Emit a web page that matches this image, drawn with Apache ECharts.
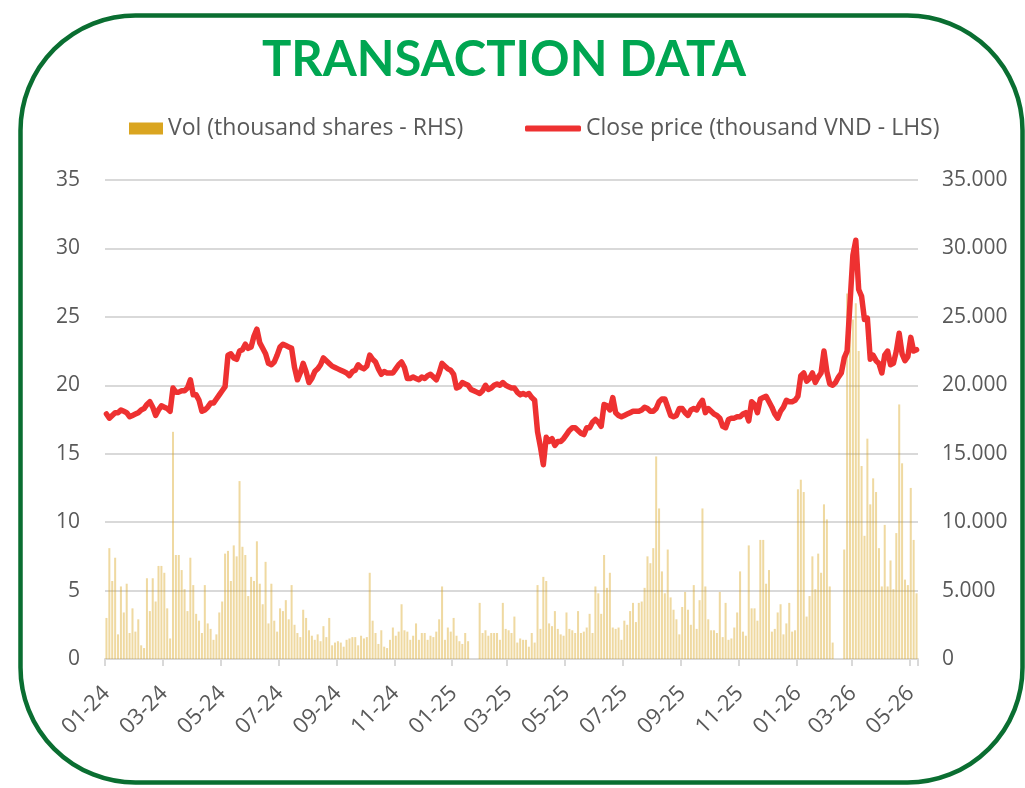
<!DOCTYPE html>
<html>
<head>
<meta charset="utf-8">
<script src="https://cdn.jsdelivr.net/npm/echarts@6/dist/echarts.min.js"></script>
<style>
  html, body { margin: 0; padding: 0; background: #ffffff; }
  #chart { width: 1025px; height: 788px; }
</style>
</head>
<body>
<div id="chart"></div>
<script>
// Month labels (MM-YY) and number of points drawn per month
const months = ['01-24','02-24','03-24','04-24','05-24','06-24','07-24','08-24','09-24','10-24','11-24','12-24',
                '01-25','02-25','03-25','04-25','05-25','06-25','07-25','08-25','09-25','10-25','11-25','12-25',
                '01-26','02-26','03-26','04-26','05-26'];
const pointsPerMonth = [10,10,10,10,10,10,10,10,10,10,10,10,
                        10,9,10,10,10,10,10,10,10,10,10,10,
                        10,9,10,10,3];

// Close price (thousand VND - LHS)
const price2024 = [
  17.9,17.6,17.8,18.0,18.0,18.2,18.1,18.0,17.7,17.8,
  17.9,18.0,18.2,18.3,18.6,18.8,18.4,17.8,18.2,18.5,
  18.4,18.3,18.1,19.8,19.5,19.5,19.6,19.6,19.8,20.4,
  19.3,19.3,18.9,18.1,18.2,18.4,18.7,18.7,19.0,19.3,
  19.6,19.9,22.2,22.3,22.0,21.9,22.5,22.6,23.0,22.7,
  22.8,23.6,24.1,23.1,22.7,22.3,21.6,21.5,21.7,22.2,
  22.8,23.0,22.9,22.8,22.7,21.3,20.4,20.9,21.6,21.0,
  20.2,20.5,21.0,21.2,21.5,22.0,21.8,21.6,21.4,21.3,
  21.2,21.1,21.0,20.9,20.7,21.0,21.1,21.5,21.3,21.2,
  21.4,22.2,21.9,21.7,21.2,20.8,21.0,20.9,20.9,20.9,
  21.2,21.5,21.7,21.3,20.5,20.5,20.6,20.5,20.4,20.6,
  20.5,20.7,20.8,20.6,20.4,20.9,21.6,21.4,21.2,21.1
];
const price2025 = [
  20.8,19.8,19.9,20.2,20.1,20.0,19.7,19.6,19.5,19.4,
  19.6,20.0,19.7,19.8,20.0,20.1,20.0,20.2,20.0,
  19.9,19.8,19.8,19.5,19.3,19.4,19.3,19.4,19.1,18.9,
  16.6,15.5,14.2,16.2,15.9,16.1,15.6,15.9,15.9,16.1,
  16.4,16.7,16.9,16.9,16.7,16.5,16.4,16.9,16.9,17.3,
  17.5,17.3,17.0,18.6,18.5,18.2,19.1,18.0,17.8,17.7,
  17.8,17.9,18.0,18.1,18.1,18.1,18.2,18.4,18.3,18.1,
  18.1,18.3,18.8,19.0,19.0,18.4,17.8,17.7,17.8,18.3,
  18.3,18.0,17.8,18.2,18.3,18.2,18.6,18.9,18.0,18.3,
  18.1,17.9,17.8,17.6,17.0,16.9,17.5,17.6,17.6,17.7,
  17.7,17.9,18.0,17.4,18.8,18.6,18.0,19.0,19.1,19.2,
  18.8,18.4,17.9,17.6,18.1,18.4,18.9,18.8,18.8,18.9
];
const price2026 = [
  19.2,20.7,20.9,20.3,20.5,20.9,20.2,20.6,20.9,22.5,
  21.0,20.1,20.0,20.2,20.6,20.9,22.0,22.5,26.0,
  29.5,30.6,27.0,26.5,24.8,24.9,21.9,22.2,21.8,21.6,
  20.9,22.2,22.5,21.5,21.6,22.5,23.8,22.3,21.8,22.1,
  23.5,22.5,22.6
];

// Volume (thousand shares - RHS)
const vol2024 = [
  3000,8100,5700,7400,1800,5300,3400,5500,1900,3700,
  2000,2900,1000,800,5900,3500,5900,4200,6800,6800,
  6300,3700,1500,16600,7600,7600,6500,5100,3500,7400,
  5400,3300,2800,1900,5400,2600,2200,1400,1800,3400,
  4200,7700,7900,5700,8300,7500,13000,8200,7600,4600,
  6000,5700,8600,5500,4000,7100,2600,5500,2800,2000,
  3700,3500,4300,2900,5400,2500,1900,1600,3600,3000,
  2100,1700,1400,1800,1300,2400,1600,3000,1000,1200,
  1300,1200,900,1400,1500,1600,1600,1000,1700,1500,
  1600,6300,2800,1900,1100,2100,900,800,1400,2300,
  1700,2000,4000,2100,2000,1400,1700,2600,1400,1900,
  1900,1400,1700,1600,2000,2900,5300,1400,2300,2000
];
const vol2025 = [
  3000,1700,1300,1100,1900,1300,0,0,0,4100,
  1900,2100,1700,1900,1900,1900,1400,4100,2200,
  2100,1900,3100,1200,1500,1400,1400,900,1900,1200,
  5400,2200,6000,5700,2600,2400,3500,2200,1800,1700,
  3400,2200,2100,1900,3500,1900,2000,2300,3300,1900,
  5300,4800,3300,7600,5200,6300,2300,2200,2300,1400,
  2800,2500,3500,4100,2700,4100,4200,5200,7500,7000,
  8100,14800,11000,6400,4800,8000,4500,3600,2900,1800,
  3800,4900,3600,2500,5400,2200,4300,11000,5300,2900,
  2100,2100,1900,4900,1600,4100,1400,1500,2300,3400,
  6400,2000,1700,8300,3700,3700,2800,8700,8700,5500,
  6500,2000,2200,3400,4000,1800,2600,4100,2000,2100
];
const vol2026 = [
  12400,13100,12200,3100,4600,7500,5100,7700,6300,11300,
  10200,5300,1200,0,0,0,8000,26700,24300,
  24800,26000,22500,14100,9000,16100,11300,13200,12200,8100,
  5300,9800,5300,7200,5100,9200,18600,14300,5800,5400,
  12500,8700,4800
];

// Build the category list (one category per drawn point)
const categories = [];
months.forEach(function (m, i) {
  for (let k = 0; k < pointsPerMonth[i]; k++) categories.push(m + '|' + k);
});
const priceData = price2024.concat(price2025, price2026);
const volData = vol2024.concat(vol2025, vol2026);

function isLabelCat(value) {
  const parts = String(value).split('|');
  const mm = parseInt(parts[0].slice(0, 2), 10);
  return parts[1] === '0' && mm % 2 === 1;
}

const chart = echarts.init(document.getElementById('chart'), null, { renderer: 'canvas' });
const FONT = '"Open Sans", "Noto Sans", sans-serif';
const GREY = '#595959';

chart.setOption({
  animation: false,
  backgroundColor: '#ffffff',
  graphic: [
    {
      type: 'rect', silent: true, z: -10,
      shape: { x: 20.5, y: 15.5, width: 1002, height: 767, r: 115 },
      style: { fill: 'none', stroke: '#0a6e31', lineWidth: 4.5 }
    },
    {
      type: 'text', silent: true,
      x: 504, y: 60,
      style: {
        text: 'TRANSACTION DATA',
        font: 'bold 49px Lato, "Open Sans", sans-serif',
        fill: '#00a651',
        align: 'center',
        verticalAlign: 'middle'
      }
    }
  ],
  legend: [
    {
      data: [{ name: 'Vol (thousand shares - RHS)', icon: 'rect', itemStyle: { color: '#DAA520' } }],
      left: 124, top: 112,
      itemWidth: 34, itemHeight: 12,
      textStyle: { fontFamily: FONT, fontSize: 23, color: GREY },
      selectedMode: false
    },
    {
      data: [{ name: 'Close price (thousand VND - LHS)', icon: 'roundRect' }],
      left: 520, top: 112,
      itemWidth: 56, itemHeight: 6,
      textStyle: { fontFamily: FONT, fontSize: 23, color: GREY },
      selectedMode: false
    }
  ],
  grid: { left: 105, right: 107, top: 180, bottom: 129, containLabel: false },
  xAxis: {
    type: 'category',
    data: categories,
    boundaryGap: true,
    axisLine: { show: true, lineStyle: { color: '#d9d9d9', width: 2 } },
    axisTick: {
      show: true, length: 7,
      interval: function (idx, value) { return isLabelCat(value); },
      lineStyle: { color: '#d9d9d9', width: 2 }
    },
    axisLabel: {
      interval: function (idx, value) { return isLabelCat(value); },
      formatter: function (value) { return String(value).split('|')[0]; },
      rotate: 45,
      margin: 31,
      fontFamily: FONT, fontSize: 22, color: GREY
    },
    splitLine: { show: false }
  },
  yAxis: [
    {
      type: 'value', min: 0, max: 35, interval: 5,
      axisLine: { show: false }, axisTick: { show: false },
      axisLabel: { margin: 25, fontFamily: FONT, fontSize: 21, color: GREY },
      splitLine: { show: true, lineStyle: { color: '#d9d9d9', width: 2 } }
    },
    {
      type: 'value', min: 0, max: 35000, interval: 5000,
      axisLine: { show: false }, axisTick: { show: false },
      axisLabel: {
        margin: 24, fontFamily: FONT, fontSize: 21, color: GREY,
        formatter: function (v) { return v === 0 ? '0' : (v / 1000).toFixed(3); }
      },
      splitLine: { show: false }
    }
  ],
  series: [
    {
      name: 'Vol (thousand shares - RHS)',
      type: 'bar',
      yAxisIndex: 1,
      data: volData,
      barWidth: '70%',
      itemStyle: { color: 'rgba(218,165,32,0.42)' },
      z: 1
    },
    {
      name: 'Close price (thousand VND - LHS)',
      type: 'line',
      yAxisIndex: 0,
      data: priceData,
      showSymbol: false,
      symbol: 'none',
      smooth: false,
      lineStyle: { color: '#ee3131', width: 5.5, cap: 'round', join: 'round' },
      itemStyle: { color: '#ee3131' },
      z: 5
    }
  ]
});
</script>
</body>
</html>
